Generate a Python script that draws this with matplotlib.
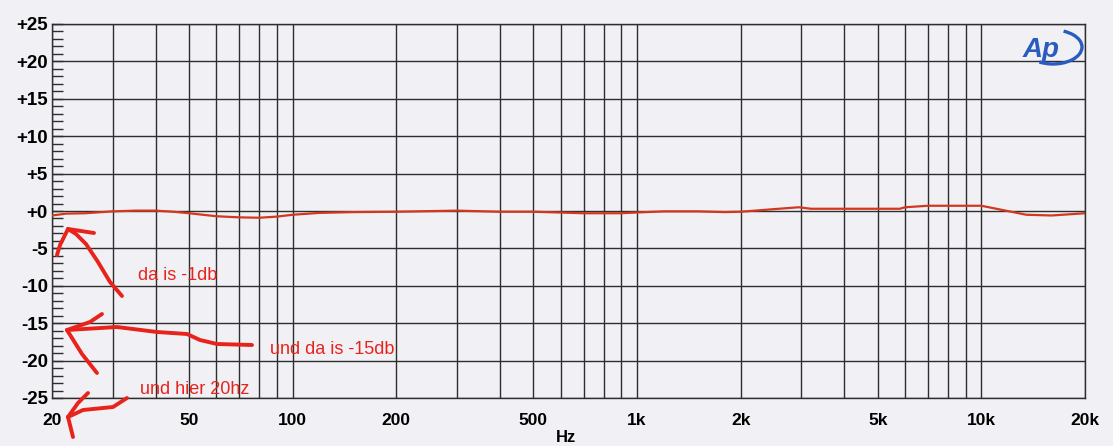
import numpy as np
import matplotlib
matplotlib.use("Agg")
import matplotlib.pyplot as plt
from matplotlib.lines import Line2D
from matplotlib.patches import Arc

# ---- data ----
freq_hz = [20, 22, 25, 30, 35, 40, 45, 50, 60, 70, 80, 90, 100, 120, 150, 200,
           300, 400, 500, 700, 900, 1000, 1200, 1500, 1800, 2000, 2500, 2950,
           3200, 5800, 6000, 7000, 10000, 13500, 16000, 20000]
level_db = [-0.6, -0.35, -0.3, -0.05, 0.05, 0.05, -0.1, -0.3, -0.7, -0.85, -0.9,
            -0.75, -0.5, -0.25, -0.15, -0.1, 0.05, -0.1, -0.1, -0.3, -0.3, -0.2,
            -0.05, -0.05, -0.15, -0.1, 0.25, 0.5, 0.3, 0.3, 0.5, 0.7, 0.7,
            -0.5, -0.6, -0.3]

x_ticks = [20, 50, 100, 200, 500, 1000, 2000, 5000, 10000, 20000]
x_tick_labels = ["20", "50", "100", "200", "500", "1k", "2k", "5k", "10k", "20k"]
y_ticks = [25, 20, 15, 10, 5, 0, -5, -10, -15, -20, -25]
y_tick_labels = ["+25", "+20", "+15", "+10", "+5", "+0", "-5", "-10", "-15", "-20", "-25"]
grid_freqs = [20, 30, 40, 50, 60, 70, 80, 90, 100, 200, 300, 400, 500, 600, 700,
              800, 900, 1000, 2000, 3000, 4000, 5000, 6000, 7000, 8000, 9000,
              10000, 20000]

notes = ["da is -1db", "und da is -15db", "und hier 20hz"]
x_label = "Hz"

# ---- figure ----
W, H = 1113, 446
plt.rcParams['font.family'] = ['Liberation Sans', 'DejaVu Sans']
bg = "#f1f1f5"
fig = plt.figure(figsize=(W / 100, H / 100), dpi=100, facecolor=bg)
ax = fig.add_axes([52 / W, 1 - 398 / H, (1085 - 52) / W, (398 - 24) / H])
ax.set_facecolor(bg)

ax.set_xscale("log")
ax.set_xlim(20, 20000)
ax.set_ylim(-25, 25)

gcol = "#2e2e2e"
for f in grid_freqs:
    ax.axvline(f, color=gcol, lw=1.0, zorder=1)
for yv in y_ticks:
    ax.axhline(yv, color=gcol, lw=1.0, zorder=1)

ax.set_xticks(x_ticks)
ax.set_xticklabels(x_tick_labels, fontsize=12.5, fontweight="bold")
ax.set_xticks([], minor=True)
ax.set_yticks(y_ticks)
ax.set_yticklabels(y_tick_labels, fontsize=13.5, fontweight="bold")
ax.set_yticks(np.arange(-25, 26, 1), minor=True)
ax.tick_params(axis="y", which="both", direction="in", length=8, width=1,
               color=gcol, pad=3)
ax.tick_params(axis="x", which="both", length=0, pad=11)
for s in ax.spines.values():
    s.set_color(gcol)
    s.set_linewidth(1.0)

# axis label kept fully inside the canvas, at the very bottom
fig.text(566 / W, 1 / H, x_label, fontsize=12, fontweight="bold",
         ha="center", va="bottom")

ax.plot(freq_hz, level_db, color="#d2381f", lw=1.6, zorder=3)

# ---- Ap logo ----
logo_col = "#2a5cc0"
ax.text(0.957, 0.93, "Ap", transform=ax.transAxes, color=logo_col,
        fontsize=20, fontweight="bold", fontstyle="italic", ha="center",
        va="center", zorder=4)
fig.add_artist(Arc((1053 / W, 1 - 47 / H), 58 / W, 34 / H, angle=0,
                   theta1=-110, theta2=75, color=logo_col, lw=2.4,
                   transform=fig.transFigure))

# ---- handwritten annotations ----
red = "#e8231c"
def px(pts):
    xs = [p[0] / W for p in pts]
    ys = [1 - p[1] / H for p in pts]
    return xs, ys

strokes = [
    [(122, 296), (110, 282), (98, 262), (86, 244), (76, 234), (68, 229)],
    [(68, 229), (94, 233)],
    [(68, 229), (60, 245), (57, 255)],
    [(252, 345), (217, 344), (200, 340), (187, 334), (157, 332), (117, 327), (67, 330)],
    [(67, 330), (90, 322), (102, 314)],
    [(67, 330), (82, 354), (97, 373)],
    [(127, 398), (113, 407), (83, 410), (68, 417)],
    [(68, 417), (78, 403), (88, 393)],
    [(68, 417), (73, 437)],
]
for st in strokes:
    xs, ys = px(st)
    fig.add_artist(Line2D(xs, ys, color=red, lw=2.8, solid_capstyle="round",
                          solid_joinstyle="round", transform=fig.transFigure))

fig.text(138 / W, 1 - 276 / H, notes[0], color=red, fontsize=13, va="center")
fig.text(270 / W, 1 - 350 / H, notes[1], color=red, fontsize=13, va="center")
fig.text(140 / W, 1 - 389 / H, notes[2], color=red, fontsize=13, va="center")

fig.savefig("out.png", dpi=100, facecolor=bg)
